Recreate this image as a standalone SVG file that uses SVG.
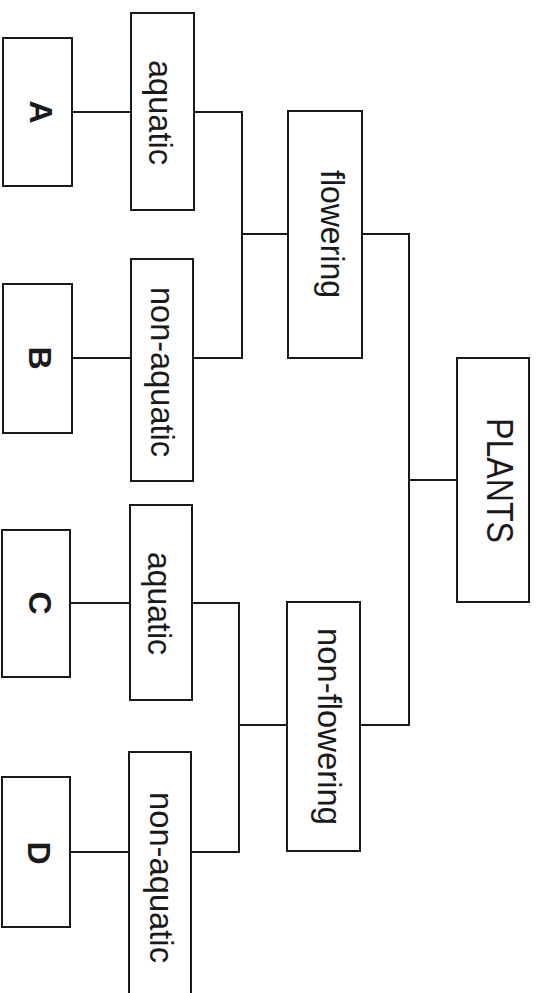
<svg xmlns="http://www.w3.org/2000/svg" width="539" height="993" viewBox="0 0 539 993">
<style>
.box{fill:#fff;stroke:#1a1a1a;stroke-width:2}
.ln{fill:none;stroke:#1a1a1a;stroke-width:2}
.lbl{font-family:"Liberation Sans",Arial,sans-serif;font-size:34px;fill:#1a1a1a}
.big{font-family:"Liberation Sans",Arial,sans-serif;font-size:32px;font-weight:bold;fill:#1a1a1a}
</style>
<rect width="539" height="993" fill="#fff"/>
<g id="connectors">
<path class="ln" d="M72,112H131M194,112H242V358H193M72,358H131M242,234H288"/>
<path class="ln" d="M362,234H409V725H360M409,480H457"/>
<path class="ln" d="M70,603H130M192,603H239V852H191M70,852H129M239,725H287"/>
</g>
<g id="A"><rect class="box" x="3" y="38" width="69" height="148"/><text class="big" transform="translate(30,112) rotate(90)" text-anchor="middle">A</text></g>
<g id="B"><rect class="box" x="3" y="284" width="69" height="149"/><text class="big" transform="translate(29,358) rotate(90)" text-anchor="middle">B</text></g>
<g id="C"><rect class="box" x="2" y="530" width="68" height="147"/><text class="big" transform="translate(29,603) rotate(90)" text-anchor="middle">C</text></g>
<g id="D"><rect class="box" x="2" y="777" width="68" height="150"/><text class="big" transform="translate(28,853) rotate(90)" text-anchor="middle">D</text></g>
<g id="aquatic1"><rect class="box" x="131" y="13" width="63" height="197"/><text class="lbl" transform="translate(149,112.5) rotate(90)" text-anchor="middle" textLength="105" lengthAdjust="spacingAndGlyphs">aquatic</text></g>
<g id="nonaquatic1"><rect class="box" x="131" y="259" width="62" height="222"/><text class="lbl" transform="translate(151,372) rotate(90)" text-anchor="middle" textLength="170" lengthAdjust="spacingAndGlyphs">non-aquatic</text></g>
<g id="aquatic2"><rect class="box" x="130" y="505" width="62" height="195"/><text class="lbl" transform="translate(148,603.5) rotate(90)" text-anchor="middle" textLength="103" lengthAdjust="spacingAndGlyphs">aquatic</text></g>
<g id="nonaquatic2"><rect class="box" x="129" y="752" width="62" height="250"/><text class="lbl" transform="translate(150,877.5) rotate(90)" text-anchor="middle" textLength="171" lengthAdjust="spacingAndGlyphs">non-aquatic</text></g>
<g id="flowering"><rect class="box" x="288" y="111" width="74" height="247"/><text class="lbl" transform="translate(321,234) rotate(90)" text-anchor="middle" textLength="128" lengthAdjust="spacingAndGlyphs">flowering</text></g>
<g id="nonflowering"><rect class="box" x="287" y="602" width="73" height="249"/><text class="lbl" transform="translate(318,726.5) rotate(90)" text-anchor="middle" textLength="197" lengthAdjust="spacingAndGlyphs">non-flowering</text></g>
<g id="PLANTS"><rect class="box" x="457" y="358" width="72" height="244"/><text class="lbl" transform="translate(487,480.5) rotate(90)" text-anchor="middle" textLength="125" lengthAdjust="spacingAndGlyphs" style="font-size:36px">PLANTS</text></g>
</svg>
